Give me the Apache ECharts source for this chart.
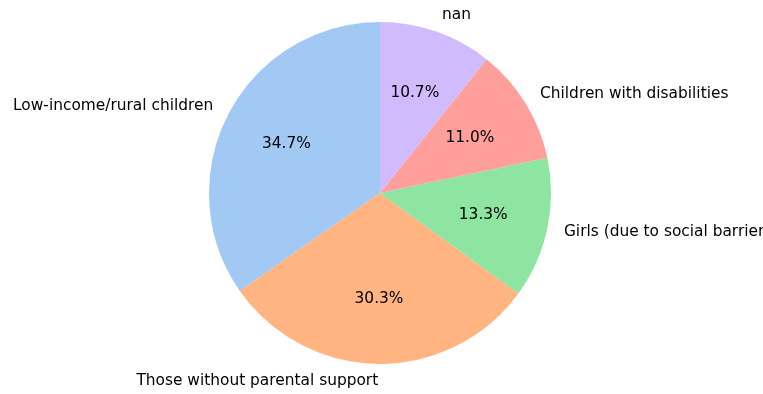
<!DOCTYPE html>
<html>
<head>
<meta charset="utf-8">
<script src="https://cdn.jsdelivr.net/npm/echarts@6/dist/echarts.min.js"></script>
<style>
  html, body { margin: 0; padding: 0; background: #fff; }
  #chart { width: 763px; height: 394px; }
</style>
</head>
<body>
<div id="chart"></div>
<script>
// Groups of children facing barriers, share of total (%)
const categories = [
  'Low-income/rural children',
  'Those without parental support',
  'Girls (due to social barriers)',
  'Children with disabilities',
  'nan'
];
const shares = [34.7, 30.3, 13.3, 11.0, 10.7];
const colors = ['#a1c9f4', '#ffb482', '#8de5a1', '#ff9f9b', '#d0bbff'];

const cx = 380, cy = 193, R = 171;
const font = 'DejaVu Sans';
const fontSize = 15.4;

const sliceData = categories.map((name, i) => ({
  name, value: shares[i], itemStyle: { color: colors[i] }
}));

const chart = echarts.init(document.getElementById('chart'), null, { renderer: 'canvas' });
chart.setOption({
  backgroundColor: '#ffffff',
  animation: false,
  series: [
    {
      // coloured slices with category names just outside the rim
      type: 'pie',
      center: [cx, cy],
      radius: [0, R],
      startAngle: 90,
      clockwise: false,
      avoidLabelOverlap: false,
      silent: true,
      data: sliceData,
      label: {
        show: true,
        position: 'outside',
        formatter: '{b}',
        color: '#000000',
        fontFamily: font,
        fontSize: fontSize,
        distanceToLabelLine: 0,
        overflow: 'none',
        alignTo: 'none'
      },
      labelLine: { show: false, length: R * 0.1, length2: 0 }
    },
    {
      // transparent ring whose inside labels sit at 0.6 of the pie radius
      type: 'pie',
      center: [cx, cy],
      radius: [0, R * 1.2],
      startAngle: 90,
      clockwise: false,
      avoidLabelOverlap: false,
      silent: true,
      data: categories.map((name, i) => ({ name, value: shares[i] })),
      itemStyle: { color: 'rgba(0,0,0,0)' },
      label: {
        show: true,
        position: 'inside',
        formatter: (p) => p.value.toFixed(1) + '%',
        color: '#000000',
        fontFamily: font,
        fontSize: fontSize
      },
      labelLine: { show: false }
    }
  ]
});
</script>
</body>
</html>
